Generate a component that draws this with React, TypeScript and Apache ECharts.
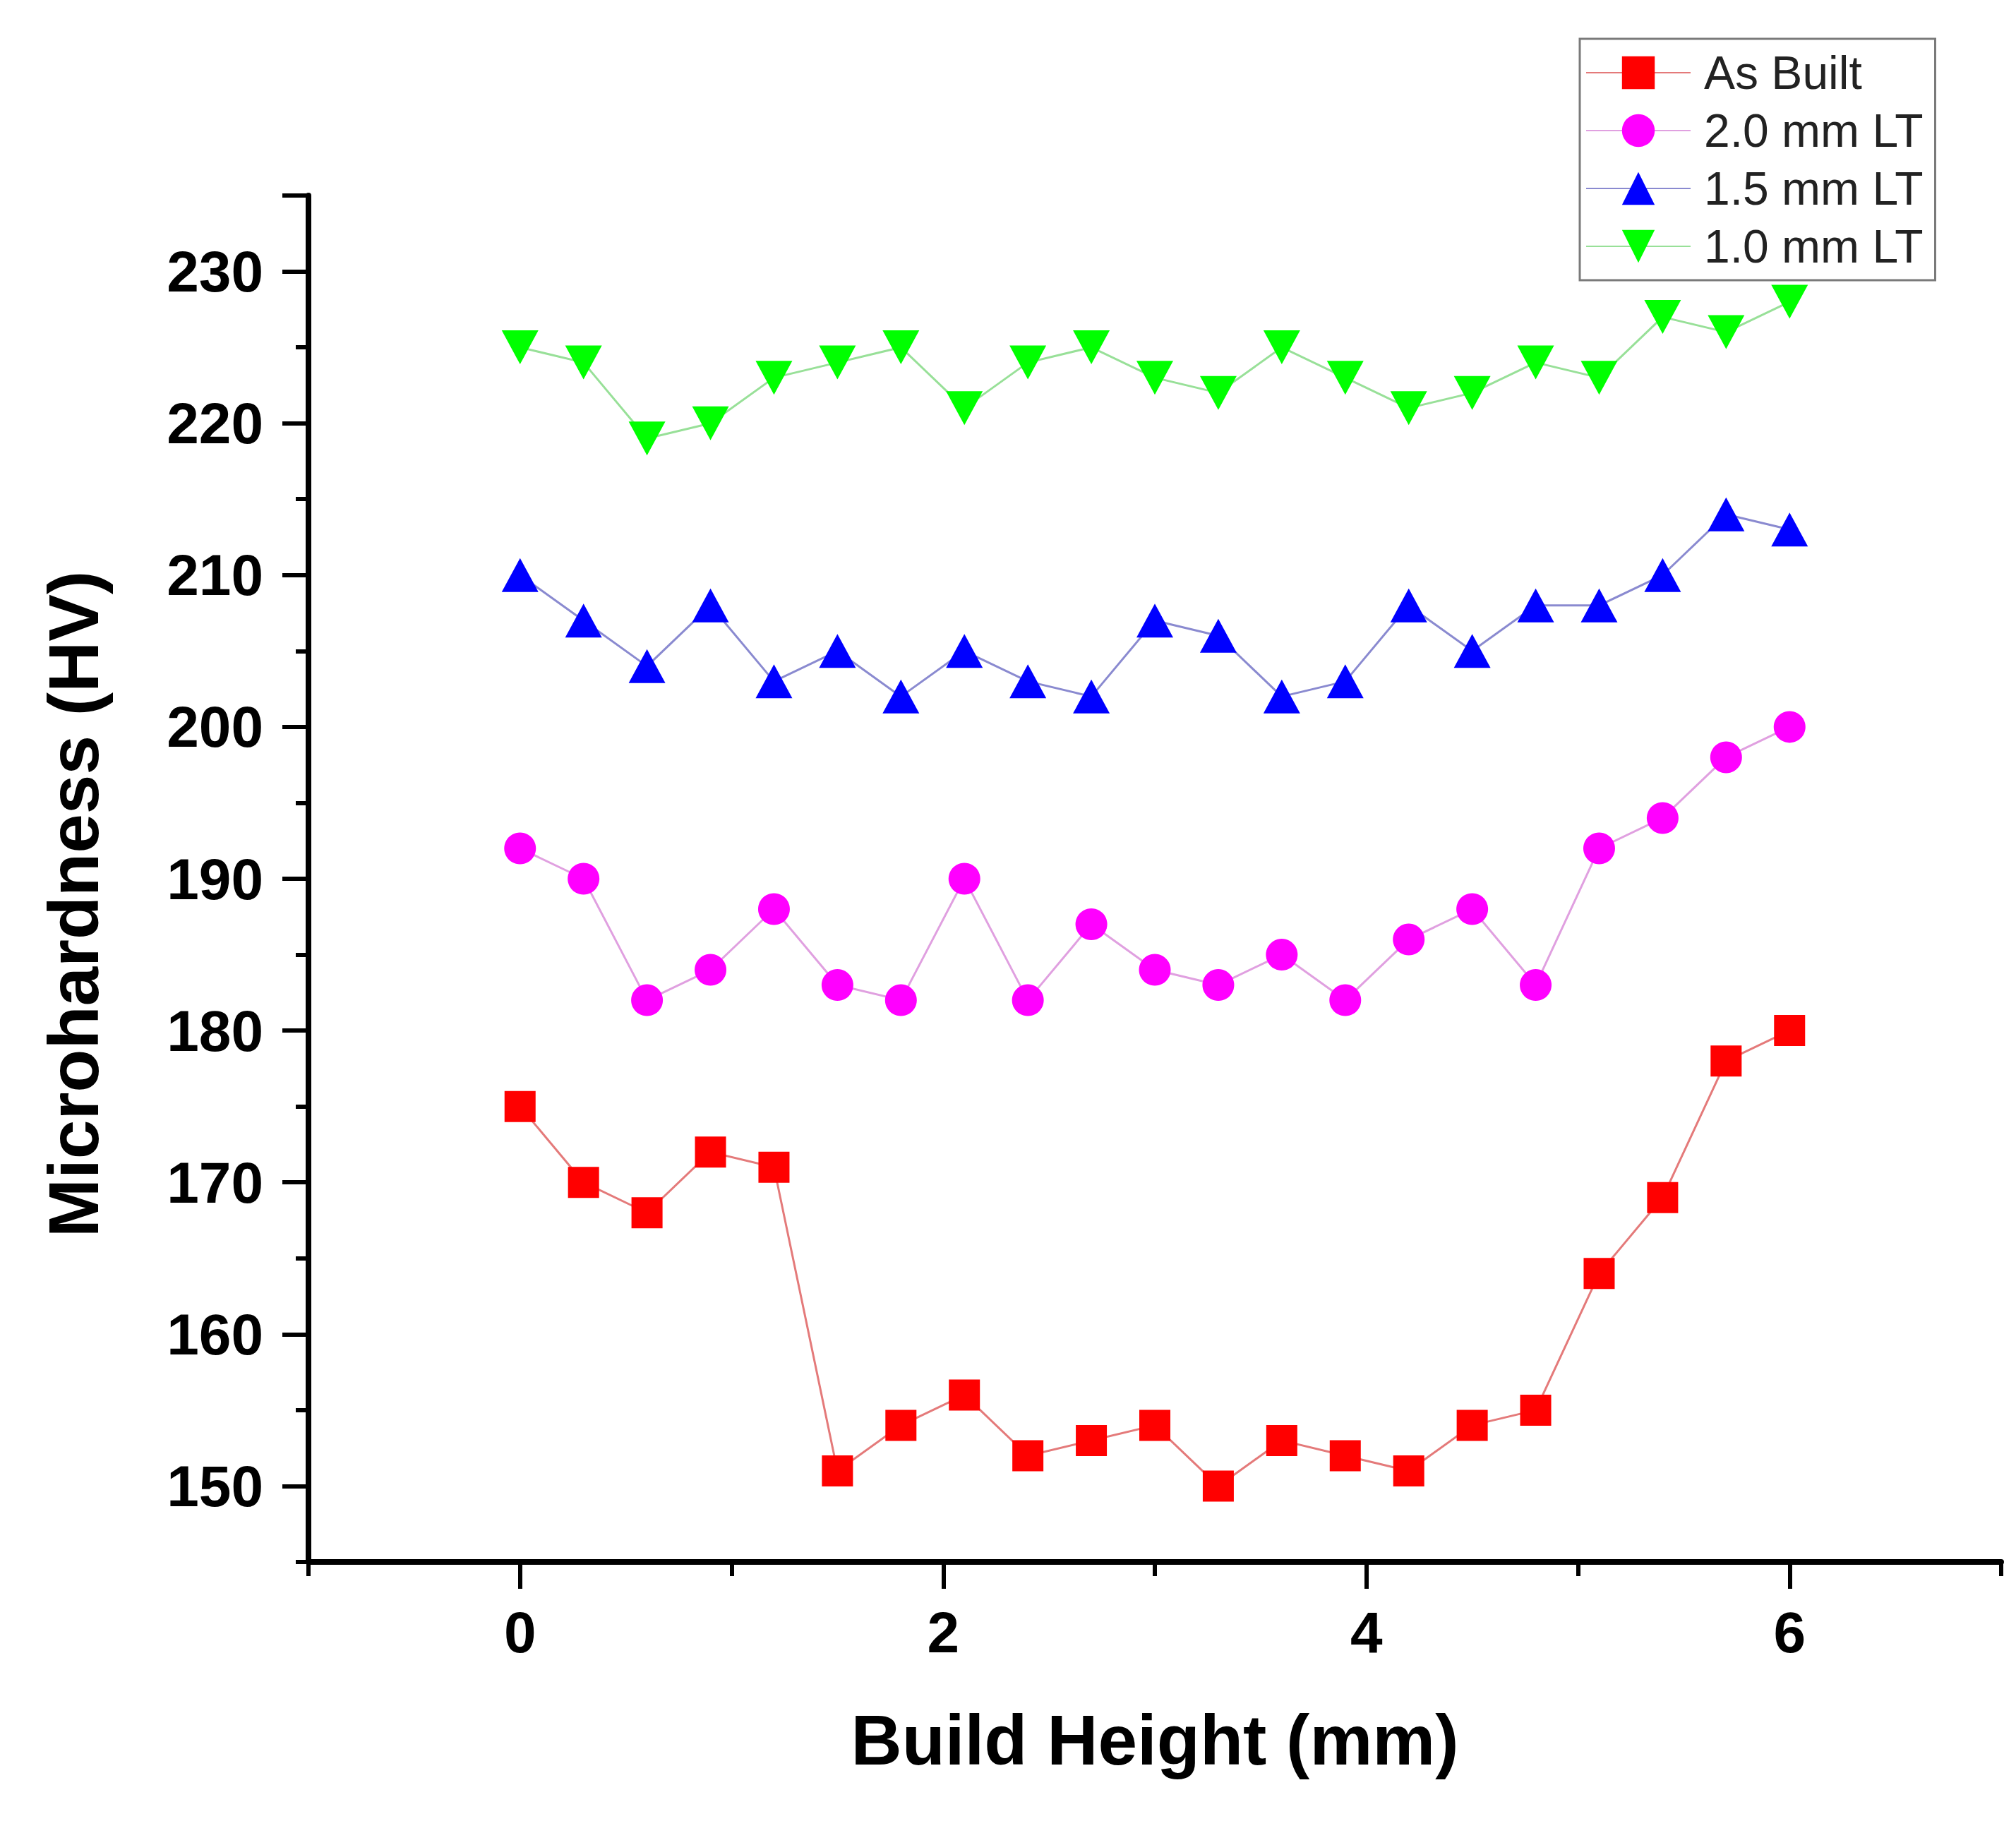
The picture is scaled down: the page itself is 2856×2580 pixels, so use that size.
import { useEffect, useRef } from "react";
import * as echarts from "echarts";

const buildHeights = [0, 0.3, 0.6, 0.9, 1.2, 1.5, 1.8, 2.1, 2.4, 2.7, 3.0, 3.3, 3.6, 3.9, 4.2, 4.5, 4.8, 5.1, 5.4, 5.7, 6.0];

const asBuilt = [175, 170, 168, 172, 171, 151, 154, 156, 152, 153, 154, 150, 153, 152, 151, 154, 155, 164, 169, 178, 180];
const lt20 = [192, 190, 182, 184, 188, 183, 182, 190, 182, 187, 184, 183, 185, 182, 186, 188, 183, 192, 194, 198, 200];
const lt15 = [210, 207, 204, 208, 203, 205, 202, 205, 203, 202, 207, 206, 202, 203, 208, 205, 208, 208, 210, 214, 213];
const lt10 = [225, 224, 219, 220, 223, 224, 225, 221, 224, 225, 223, 222, 225, 223, 221, 222, 224, 223, 227, 226, 228];

const xTickLabels = [0, 2, 4, 6];
const yTickLabels = [150, 160, 170, 180, 190, 200, 210, 220, 230];
const yLongTicks = [...yTickLabels, 235];

const FONT = "'Liberation Sans', Arial, Helvetica, sans-serif";

const pairs = (ys: number[]) => buildHeights.map((x, i) => [x, ys[i]]);

export default function App() {
    const chartRef = useRef<HTMLDivElement | null>(null);

    useEffect(() => {
        if (!chartRef.current) return;
        const chart = echarts.init(chartRef.current, undefined, { renderer: "svg" });

        const axisLine = { show: true, onZero: false, lineStyle: { color: "#000", width: 8 } };

        const option: any = {
            animation: false,
            backgroundColor: "#fff",
            grid: { left: 437, top: 277, right: 21, bottom: 367, containLabel: false },
            legend: {
                left: 2238,
                top: 55,
                orient: "vertical",
                padding: [15, 17, 15, 8],
                itemWidth: 148,
                itemHeight: 58,
                itemGap: 16,
                borderColor: "#7a7a7a",
                borderWidth: 3,
                backgroundColor: "#fff",
                textStyle: { fontFamily: FONT, fontSize: 66, color: "#222", padding: [0, 0, 0, 14] },
                data: ["As Built", "2.0 mm LT", "1.5 mm LT", "1.0 mm LT"],
            },
            xAxis: [
                {
                    type: "value",
                    min: -1,
                    max: 7,
                    interval: 1,
                    position: "bottom",
                    name: "Build Height (mm)",
                    nameLocation: "middle",
                    nameGap: 202,
                    nameTextStyle: { fontFamily: FONT, fontSize: 100, fontWeight: "bold", color: "#000" },
                    axisLine,
                    axisTick: { show: true, length: 20, lineStyle: { color: "#000", width: 6 } },
                    axisLabel: {
                        margin: 58,
                        fontFamily: FONT,
                        fontSize: 82,
                        fontWeight: "bold",
                        color: "#000",
                        formatter: (v: number) => (xTickLabels.includes(v) ? String(v) : ""),
                    },
                    splitLine: { show: false },
                },
                {
                    type: "value",
                    min: -1,
                    max: 7,
                    position: "bottom",
                    axisLine: { show: false, onZero: false },
                    axisTick: { show: true, customValues: xTickLabels, length: 38, lineStyle: { color: "#000", width: 6 } },
                    axisLabel: { show: false },
                    splitLine: { show: false },
                },
            ],
            yAxis: [
                {
                    type: "value",
                    min: 145,
                    max: 235,
                    interval: 5,
                    position: "left",
                    name: "Microhardness (HV)",
                    nameLocation: "middle",
                    nameGap: 283,
                    nameTextStyle: {
                        fontFamily: FONT,
                        fontSize: 100,
                        fontWeight: "bold",
                        color: "#000",
                        padding: [0, 72, 0, 0],
                    },
                    axisLine,
                    axisTick: { show: true, length: 18, lineStyle: { color: "#000", width: 6 } },
                    axisLabel: {
                        margin: 64,
                        fontFamily: FONT,
                        fontSize: 82,
                        fontWeight: "bold",
                        color: "#000",
                        formatter: (v: number) => (yTickLabels.includes(v) ? String(v) : ""),
                    },
                    splitLine: { show: false },
                },
                {
                    type: "value",
                    min: 145,
                    max: 235,
                    position: "left",
                    axisLine: { show: false, onZero: false },
                    axisTick: { show: true, customValues: yLongTicks, length: 37, lineStyle: { color: "#000", width: 6 } },
                    axisLabel: { show: false },
                    splitLine: { show: false },
                },
            ],
            series: [
                {
                    name: "As Built",
                    type: "line",
                    data: pairs(asBuilt),
                    symbol: "rect",
                    symbolSize: 44,
                    itemStyle: { color: "#ff0000" },
                    lineStyle: { color: "#e47a7a", width: 3 },
                },
                {
                    name: "2.0 mm LT",
                    type: "line",
                    data: pairs(lt20),
                    symbol: "circle",
                    symbolSize: 45,
                    itemStyle: { color: "#ff00ff" },
                    lineStyle: { color: "#e0a0e0", width: 3 },
                },
                {
                    name: "1.5 mm LT",
                    type: "line",
                    data: pairs(lt15),
                    symbol: "triangle",
                    symbolSize: [52, 48],
                    itemStyle: { color: "#0000ff" },
                    lineStyle: { color: "#8a8ad0", width: 3 },
                },
                {
                    name: "1.0 mm LT",
                    type: "line",
                    data: pairs(lt10),
                    symbol: "triangle",
                    symbolRotate: 180,
                    symbolSize: [52, 48],
                    itemStyle: { color: "#00ff00" },
                    lineStyle: { color: "#98e098", width: 3 },
                },
            ],
        };

        chart.setOption(option);
        return () => chart.dispose();
    }, []);

    return (
        <div
            ref={chartRef}
            style={{ position: "absolute", left: 0, top: 0, width: 2856, height: 2580, background: "#fff" }}
        />
    );
}
